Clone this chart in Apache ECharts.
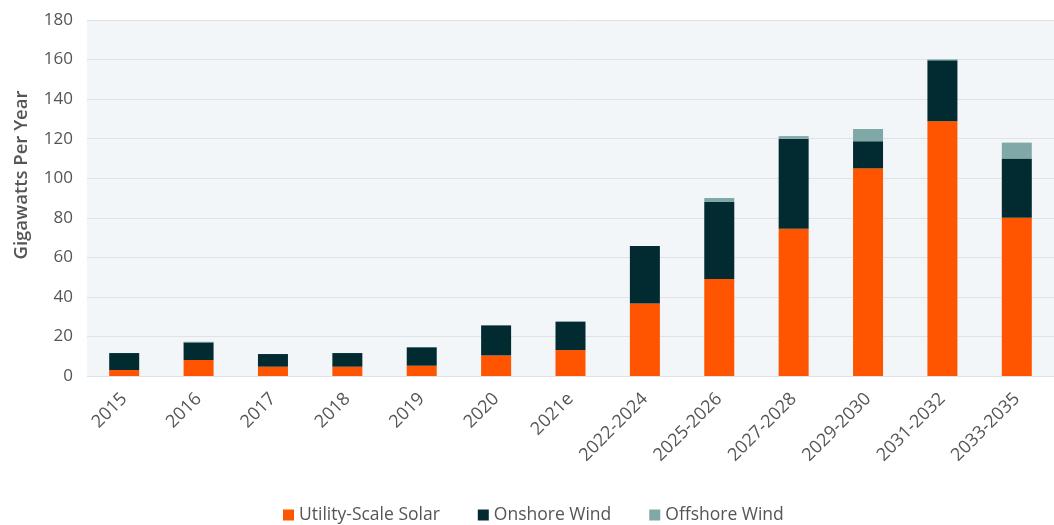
<!DOCTYPE html>
<html>
<head>
<meta charset="utf-8">
<script src="https://cdn.jsdelivr.net/npm/echarts@6/dist/echarts.min.js"></script>
<style>html,body{margin:0;padding:0;background:#fff;}#c{width:1054px;height:525px;}</style>
</head>
<body>
<div id="c"></div>
<script>
const categories = ['2015','2016','2017','2018','2019','2020','2021e','2022-2024','2025-2026','2027-2028','2029-2030','2031-2032','2033-2035'];
const solar    = [3.0, 8.1, 4.7, 4.7, 5.2, 10.4, 13.1, 36.7, 49, 74.5, 105, 128.8, 80];
const onshore  = [8.6, 8.9, 6.4, 6.9, 9.3, 15.2, 14.4, 29.0, 39, 45.5, 13.7, 30.8, 30];
const offshore = [0, 0.3, 0, 0, 0, 0, 0, 0, 2, 1.3, 6.2, 0.5, 8];
const yTicks = [0, 180, 20];

const font = 'Open Sans';
const chart = echarts.init(document.getElementById('c'));
chart.setOption({
  animation: false,
  textStyle: {fontFamily: font},
  grid: {left: 87, right: -7, top: 20, bottom: 149, show: true, backgroundColor: '#f3f6f8', borderWidth: 0},
  legend: {
    bottom: -4, left: 278, itemWidth: 11, itemHeight: 11, itemGap: 38, icon: 'rect',
    textStyle: {fontSize: 17.5, color: '#555', fontFamily: font},
    data: ['Utility-Scale Solar', 'Onshore Wind', 'Offshore Wind']
  },
  xAxis: {
    type: 'category', data: categories,
    axisLine: {show: false}, axisTick: {show: false},
    axisLabel: {rotate: 45, fontSize: 18, color: '#555', margin: 20, interval: 0, fontFamily: font}
  },
  yAxis: {
    type: 'value', min: yTicks[0], max: yTicks[1], interval: yTicks[2],
    name: 'Gigawatts Per Year', nameLocation: 'middle', nameGap: 56, nameRotate: 90,
    nameTextStyle: {fontSize: 18.5, fontWeight: 600, color: '#555', fontFamily: font, padding: [0, 0, 0, 46]},
    axisLine: {show: false}, axisTick: {show: false},
    axisLabel: {fontSize: 17, color: '#555', margin: 14, fontFamily: font},
    splitLine: {lineStyle: {color: '#dfe3e6', width: 1}}
  },
  series: [
    {name: 'Utility-Scale Solar', type: 'bar', stack: 't', data: solar, barWidth: 30, itemStyle: {color: '#ff5500'}},
    {name: 'Onshore Wind', type: 'bar', stack: 't', data: onshore, barWidth: 30, itemStyle: {color: '#022b31'}},
    {name: 'Offshore Wind', type: 'bar', stack: 't', data: offshore, barWidth: 30, itemStyle: {color: '#80a8a6'}}
  ]
});
</script>
</body>
</html>
